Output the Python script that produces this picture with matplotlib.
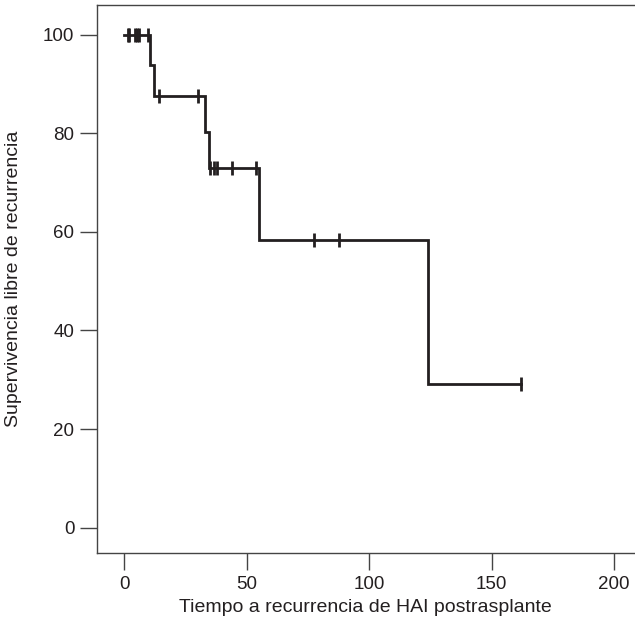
import matplotlib
matplotlib.use("Agg")
import matplotlib.pyplot as plt
import numpy as np

# Kaplan-Meier step data
event_times = [0, 10.6, 12.0, 33.1, 34.4, 54.8, 123.8]
survival = [100, 93.75, 87.5, 80.2, 72.9, 58.3, 29.2]
end_time = 161.9

censor_times = [1.3, 1.9, 4.2, 5.0, 6.0, 9.5, 14.0, 29.9, 35.0, 36.5, 38.0, 44.0, 53.6, 77.6, 87.8, 161.9]

xticks = [0, 50, 100, 150, 200]
yticks = [0, 20, 40, 60, 80, 100]

plt.rcParams['font.family'] = ['Liberation Sans Narrow', 'Liberation Sans', 'DejaVu Sans']

fig = plt.figure(figsize=(6.35, 6.34), dpi=100)
ax = fig.add_axes([96.7/635, 1 - 553.3/634, 1 - 96.7/635, (553.3 - 5)/634])

col = '#231f20'
xs = list(event_times) + [end_time]
ys = list(survival) + [survival[-1]]
ax.step(xs, ys, where='post', color=col, lw=2.0, solid_joinstyle='miter')

def surv_at(t):
    s = survival[0]
    for et, sv in zip(event_times, survival):
        if t >= et:
            s = sv
    return s

cy = [surv_at(t) for t in censor_times]
ax.plot(censor_times, cy, linestyle='none', marker='|', markersize=10, mew=2.0, color=col)

ax.set_xlim(-11.3, 208.5)
ax.set_ylim(-5.2, 106.0)
ax.set_xticks(xticks)
ax.set_yticks(yticks)
ax.tick_params(axis='both', direction='out', length=12, width=1.0, color='#444444',
               labelsize=13.5, labelcolor='#231f20', pad=4)
for side in ['left', 'bottom', 'top']:
    ax.spines[side].set_linewidth(1.0)
    ax.spines[side].set_color('#444444')
ax.spines['right'].set_visible(False)

ax.set_xlabel('Tiempo a recurrencia de HAI postrasplante', fontsize=14, color='#231f20', labelpad=5)
ax.set_ylabel('Supervivencia libre de recurrencia', fontsize=14, color='#231f20', labelpad=15)

fig.savefig('out.png', dpi=100)
